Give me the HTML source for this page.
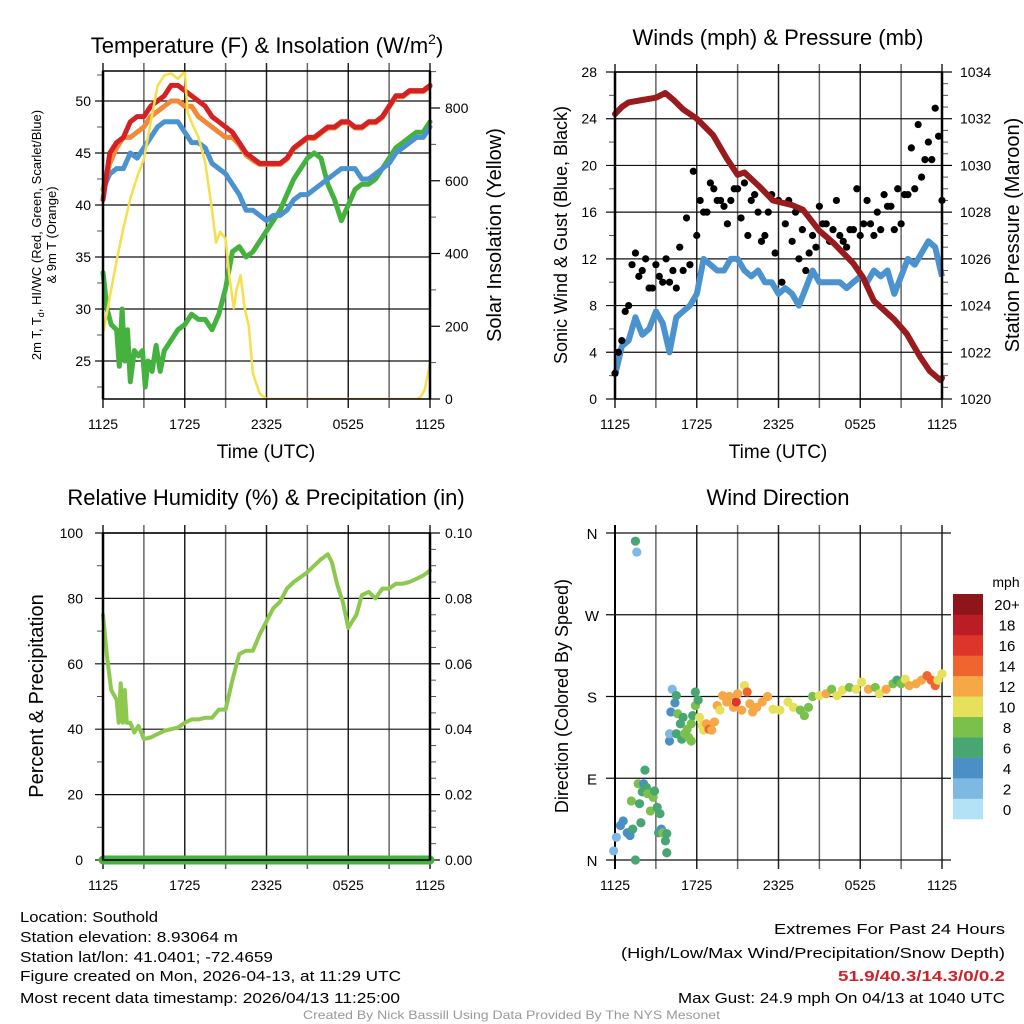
<!DOCTYPE html>
<html><head><meta charset="utf-8"><style>
html,body{margin:0;padding:0;background:#fff}
svg{display:block;font-family:"Liberation Sans",sans-serif}
</style></head><body>
<svg id="s" width="1024" height="1024" viewBox="0 0 1024 1024" xmlns="http://www.w3.org/2000/svg">
<rect width="1024" height="1024" fill="#fff"/>
<g id="g"></g>
<g font-family="'Liberation Sans Narrow','Liberation Sans',sans-serif" font-size="15" fill="#000">
<text x="20" y="922" textLength="138" lengthAdjust="spacingAndGlyphs">Location: Southold</text>
<text x="20" y="942" textLength="218" lengthAdjust="spacingAndGlyphs">Station elevation: 8.93064 m</text>
<text x="20" y="962" textLength="253" lengthAdjust="spacingAndGlyphs">Station lat/lon: 41.0401; -72.4659</text>
<text x="20" y="981" textLength="381" lengthAdjust="spacingAndGlyphs">Figure created on Mon, 2026-04-13, at 11:29 UTC</text>
<text x="20" y="1003" textLength="380" lengthAdjust="spacingAndGlyphs">Most recent data timestamp: 2026/04/13 11:25:00</text>
<text x="774" y="934" textLength="231" lengthAdjust="spacingAndGlyphs">Extremes For Past 24 Hours</text>
<text x="621" y="958" textLength="384" lengthAdjust="spacingAndGlyphs">(High/Low/Max Wind/Precipitation/Snow Depth)</text>
<text x="838" y="981" textLength="167" lengthAdjust="spacingAndGlyphs" fill="#d0202a" font-weight="bold">51.9/40.3/14.3/0/0.2</text>
<text x="678" y="1003" textLength="327" lengthAdjust="spacingAndGlyphs">Max Gust: 24.9 mph On 04/13 at 1040 UTC</text>
<text x="303" y="1019" textLength="417" lengthAdjust="spacingAndGlyphs" font-size="12" fill="#999">Created By Nick Bassill Using Data Provided By The NYS Mesonet</text>
</g>
</svg>
<script>
// ---- data ----
const xTickLabels = ["1125","1725","2325","0525","1125"];
const halfHours = [0,0.5,1,1.5,2,2.5,3,3.5,4,4.5,5,5.5,6,6.5,7,7.5,8,8.5,9,9.5,10,10.5,11,11.5,12,12.5,13,13.5,14,14.5,15,15.5,16,16.5,17,17.5,18,18.5,19,19.5,20,20.5,21,21.5,22,22.5,23,23.5,24];
const tempRed = [40.5,45,46,46.5,48,48.5,48.5,49.5,50,50.5,51.5,51.5,51,50.5,50,49.5,48.5,48,47.5,47,46,45,44.5,44,44,44,44,44.5,45.5,46,46.5,46.5,47,47.5,47.5,48,48,47.5,47.5,48,48,48.5,49.5,50.5,50.5,51,51,51,51.5];
const tempOrange = [41.5,44,45.5,46.5,46.5,47,47.5,48.5,49,49.5,50,50,49.5,49.5,48.5,48,47.5,47,46.5,46.5,45.8,44.8,44.3,43.9,43.9,43.9,43.9,44.4,45.4,45.9,46.4,46.4,46.9,47.4,47.4,47.9,47.9,47.4,47.4,47.9,47.9,48.4,49.4,50.4,50.4,50.9,50.9,50.9,51.4];
const tempBlue = [41.5,43,43.5,43.5,45,44.5,45.5,46.5,47.5,48,48,48,47,46,46,45.5,44,43.5,43,42,41,39.5,39.5,39,38.5,39,39,39.5,40.5,41,41,41.5,42,42.5,43,43.5,43.5,43.5,42.5,42.5,43,43.5,44,45,45.5,46,46.5,46.5,47.5];
const dewTimes = [0,0.3,0.6,1,1.2,1.4,1.6,1.8,2,2.3,2.6,2.9,3.1,3.3,3.6,3.9,4.2,4.5,5,5.5,6,6.5,7,7.5,8,8.5,9,9.5,10,10.5,11,11.5,12,12.5,13,13.5,14,14.5,15,15.5,16,16.5,17,17.5,18,18.5,19,19.5,20,20.5,21,21.5,22,22.5,23,23.5,24];
const tempGreen = [33.5,30,28.5,28,24.5,30,25,28,23,26,25.5,26,22.5,25,24,26.5,24,26,27,28,28.5,29.5,29,29,28,29.5,32,35.5,36,35,35.5,36.5,37.5,38.5,39.5,41,42.5,43.5,44.5,45,44.5,42,40.5,38.5,40,41.5,42,42,42.5,43.5,44.5,45.5,46,46.5,47,47,48];
const insolTimes = [0,0.5,1,1.5,2,2.5,3,3.5,4,4.5,5,5.5,6,6.2,6.5,7,7.5,8,8.3,8.6,9,9.3,9.6,9.8,10.1,10.4,10.7,11,11.5,12,13,15,17,19,21,23,23.3,23.6,23.8,24];
const insolation = [180,280,380,470,550,610,660,760,860,890,895,880,900,790,760,720,650,520,430,460,440,330,250,300,340,250,200,70,15,0,0,0,0,0,0,0,5,25,60,100];
const windSpeed = [2,4.5,5,7,5.5,6,7.5,6.5,4,7,7.5,8,9,12,11.5,11,11,12,12,11,10.5,11,10,10,9,9.5,9,8,9.5,11,10,10,10,10,9.5,10,10.5,10,11,10.5,11,9,10.5,12,11.5,12.5,13.5,13,10.5];
const pressTimes = [0,0.5,1,2,3,3.7,4.3,5,6,7.2,8.2,9,9.5,10.6,11.6,13,13.8,15,16,17.5,18.2,19,20.5,21.4,22.4,23.1,23.9,24];
const pressure = [1032.2,1032.5,1032.7,1032.8,1032.9,1033.1,1032.8,1032.4,1032.0,1031.3,1030.3,1029.6,1029.7,1029.1,1028.5,1028.3,1028.1,1027.2,1026.7,1025.8,1025.2,1024.2,1023.4,1022.8,1021.8,1021.2,1020.8,1020.9];
const gustA = [2.2,5,8,12.5,11,9.5,11.5,10,10,9.5,11,11.5,14,16,18.5,17,16.5,17,18,18.5,17,16,14,17.5,17,15,13.5,12,11,14,16.5,15,14.5,14,13,14.5,14,17,14,14.5,16.5,14.5,15,17.5,18,19,22,24.9,17];
const gustB = [4,7.5,11.5,10.5,12,9.5,10.5,12,11,13,15.5,19.5,17,16,18,17,15,18,15.5,14,17.5,13.5,16,12.5,10,17,16,14.5,12.5,13,15,13.5,17,13.5,14.5,18,15,15,16,17.5,16.5,18,17.5,21.5,23.5,20.5,20.5,22.5];
const rhTimes = [0,0.3,0.6,1,1.15,1.3,1.45,1.6,1.75,2,2.3,2.6,3,3.5,4,4.5,5,5.5,6,6.5,7,7.5,8,8.5,9,9.5,10,10.5,11,11.5,12,12.5,13,13.5,14,14.5,15,15.5,16,16.5,16.8,17.2,17.6,18,18.3,18.6,19,19.5,20,20.5,21,21.5,22,22.5,23,23.5,24];
const relHum = [75,62,52,49,42,54,42,52,42,42,39,41,37,37.5,38.5,39.5,40,40.5,42,43,43,43.5,43.5,46,46,55,63,64,64,69,73,77,79,83,85,86.5,88,90,92,93.5,91,84,79,71,73,75,81,82,80,83,83,84.5,84.5,85,86,87,88.5];
const precip = [0,0,0,0,0,0,0,0,0,0,0,0,0,0,0,0,0,0,0,0,0,0,0,0,0,0,0,0,0,0,0,0,0,0,0,0,0,0,0,0,0,0,0,0,0,0,0,0,0];
const dirTimes = [-0.1,0.1,0.4,0.6,0.9,1.1,1.2,1.3,1.5,1.5,1.6,1.7,1.8,1.9,2.0,2.1,2.2,2.3,2.4,2.6,2.8,2.9,3.1,3.2,3.3,3.4,3.5,3.7,3.8,3.8,4.0,4.0,4.1,4.2,4.4,4.5,4.5,4.6,4.8,4.9,5.0,5.1,5.3,5.4,5.6,5.6,5.7,5.9,5.9,6.1,6.2,6.4,6.5,6.7,6.9,7.1,7.3,7.5,7.7,7.9,8.2,8.4,8.7,8.9,9.0,9.3,9.5,9.7,9.9,10.1,10.4,10.8,11.2,11.6,12.1,12.7,13.1,13.6,13.9,14.2,14.5,15.0,15.5,15.9,16.3,16.7,17.2,17.7,18.1,18.6,19.1,19.4,19.9,20.4,20.7,21.0,21.3,21.6,22.1,22.5,22.9,23.2,23.5,23.7,24.0];
const dirDeg = [10,25,38,43,30,27,65,34,0,351,339,84,62,41,75,84,99,80,73,54,69,76,58,30,51,34,30,21,8,29,131,139,163,188,173,181,139,161,150,133,157,139,144,135,131,150,159,170,185,176,157,148,143,150,144,143,152,170,165,181,174,180,168,174,183,165,192,185,172,163,168,174,180,166,165,174,168,165,159,168,180,181,183,188,181,187,190,188,196,188,190,183,188,194,198,194,199,192,194,198,203,198,192,198,205];
const dirSpeed = [2,2,4,4,4,4,8,6,6,6,2,8,6,6,6,4,6,6,8,8,8,6,6,6,6,4,8,6,6,6,4,2,4,2,4,6,6,8,6,6,6,8,8,8,8,8,6,8,6,6,10,10,10,12,15,12,12,12,10,12,12,12,12,16,12,12,10,15,12,12,12,12,12,10,10,10,10,8,8,8,8,10,12,8,10,10,8,10,10,12,8,10,12,8,6,8,10,12,12,12,14,14,14,10,10];
const speedBins = ["0","2","4","6","8","10","12","14","16","18","20+"];
const binColors = ["#b3e1f6","#7eb9e3","#4a8fc6","#48a672","#7bc04b","#e7e05a","#f5a845","#ef652f","#dd3529","#bb1d26","#8e1519"];

// ---- helpers ----
const NS="http://www.w3.org/2000/svg";
const root=document.getElementById('g');
function el(tag,attrs,parent){const e=document.createElementNS(NS,tag);for(const k in attrs)e.setAttribute(k,attrs[k]);(parent||root).appendChild(e);return e;}
function txt(x,y,s,size,anchor,parent,extra){const e=el('text',Object.assign({x:x,y:y,'font-size':size,'text-anchor':anchor||'middle',fill:'#000'},extra||{}),parent);e.textContent=s;return e;}
function scale(d0,d1,r0,r1){return v=>r0+(v-d0)/(d1-d0)*(r1-r0);}
function linePath(xs,ys,sx,sy){return xs.map((t,i)=>(i?'L':'M')+sx(t).toFixed(1)+','+sy(ys[i]).toFixed(1)).join('');}

function panel(name,L,R,T,B){
  const g=el('g',{});
  
  
  const sx=scale(0,24,L,R);
  for(let h=0;h<=24;h+=3){
    const x=sx(h);
    const ln=el('line',{x1:x,x2:x,y1:T-8,y2:B+9,stroke:(h%6==0)?'#222':'#666','stroke-width':1.5},g);
    
    
  }
  xTickLabels.forEach((s,i)=>{const t=txt(sx(i*6),B+30,s,14,'middle',g);
    
    });
  return {g,sx};
}
function hgrid(g,ys,L,R,tickL,tickR){ys.forEach(y=>{const ln=el('line',{x1:L-tickL,x2:R+tickR,y1:y,y2:y,stroke:'#111','stroke-width':1.2},g);
  
  });}
function frame(g,L,R,T,B){const r=el('rect',{x:L,y:T,width:R-L,height:B-T,fill:'none',stroke:'#000','stroke-width':1.5},g);
  
  
  el('line',{x1:L,x2:L,y1:T,y2:B,stroke:'#000','stroke-width':2.5},g);el('line',{x1:R,x2:R,y1:T,y2:B,stroke:'#000','stroke-width':2.5},g);}
function minorTicks(g,x,ys,dir){ys.forEach(y=>el('line',{x1:x,x2:x+dir*6,y1:y,y2:y,stroke:'#555','stroke-width':1},g));}
function vlabel(g,x,y,s,size,name){const t=txt(x,y,s,size,'middle',g,{transform:'rotate(-90 '+x+' '+y+')'});
  
  return t;}

// ===== Panel 1: Temperature =====
(function(){
  const L=103,R=430,T=71,B=399;
  const {g,sx}=panel('temperature-panel',L,R,T,B);
  const sy=scale(25,50,361,101);
  const si=scale(0,800,399,108);
  hgrid(g,[50,45,40,35,30,25].map(sy),L,R,8,0);
  [800,600,400,200,0].forEach(v=>el('line',{x1:R,x2:R+10,y1:si(v),y2:si(v),stroke:'#000','stroke-width':1.2},g));
  minorTicks(g,L,[52.5,47.5,42.5,37.5,32.5,27.5,22.5].map(sy),-1);
  minorTicks(g,R,[900,700,500,300,100].map(si),1);
  [50,45,40,35,30,25].forEach(v=>{const t=txt(L-12,sy(v)+5,String(v),14,'end',g);
    
    });
  [800,600,400,200,0].forEach(v=>{const t=txt(R+15,si(v)+5,String(v),14,'start',g);
    
    });
  const clip=el('clipPath',{id:'c1'},g);el('rect',{x:L-4,y:T-12,width:R-L+8,height:B-T+12},clip);
  const pg=el('g',{'clip-path':'url(#c1)'},g);
  const series=[['dewpoint-line',dewTimes,tempGreen,'#45b23f',5],['windchill-line',halfHours,tempBlue,'#4b93cf',5],['temp-9m-line',halfHours,tempOrange,'#f08a3a',5],['temp-2m-line',halfHours,tempRed,'#d42124',5]];
  series.forEach(s=>{const p=el('path',{d:linePath(s[1],s[2],sx,sy),fill:'none',stroke:s[3],'stroke-width':s[4],'stroke-linejoin':'round','stroke-linecap':'round'},pg);
    
    });
  const ip=el('path',{d:linePath(insolTimes,insolation,sx,si),fill:'none',stroke:'#f7de4a','stroke-width':2.5,'stroke-linejoin':'round'},pg);
  
  
  frame(g,L,R,T,B);
  const tt=txt(267,53,'',22,'middle',g);
  
  
  tt.innerHTML='Temperature (F) &amp; Insolation (W/m<tspan dy="-9" font-size="14">2</tspan><tspan dy="9">)</tspan>';
  const xl=txt(266,458,'Time (UTC)',19,'middle',g);
  
  
  const a=vlabel(g,41,235,'',13,'y-axis-title');
  a.innerHTML='2m T, T<tspan dy="3" font-size="9">d</tspan><tspan dy="-3">, HI/WC (Red, Green, Scarlet/Blue)</tspan>';
  vlabel(g,56,235,'& 9m T (Orange)',13,'y-axis-title-line2');
  vlabel(g,501,235,'Solar Insolation (Yellow)',20,'y2-axis-title');
})();

// ===== Panel 2: Winds & pressure =====
(function(){
  const L=615,R=942,T=72,B=399;
  const {g,sx}=panel('wind-pressure-panel',L,R,T,B);
  const sy=scale(0,28,399,72);
  const sp=scale(1020,1034,399,72);
  hgrid(g,[0,4,8,12,16,20,24,28].map(sy),L,R,9,0);
  [1020,1022,1024,1026,1028,1030,1032,1034].forEach(v=>el('line',{x1:R,x2:R+10,y1:sp(v),y2:sp(v),stroke:'#000','stroke-width':1.2},g));
  minorTicks(g,L,[2,6,10,14,18,22,26].map(sy),-1);
  const mm=[];for(let v=1020.5;v<1034;v+=0.5){if(v%2!=0)mm.push(sp(v));}minorTicks(g,R,mm,1);
  [0,4,8,12,16,20,24,28].forEach(v=>{const t=txt(L-18,sy(v)+5,String(v),14,'end',g);
    
    });
  [1020,1022,1024,1026,1028,1030,1032,1034].forEach(v=>{const t=txt(R+18,sp(v)+5,String(v),14,'start',g);
    
    });
  const wp=el('path',{d:linePath(halfHours,windSpeed,sx,sy),fill:'none',stroke:'#4b93cf','stroke-width':6,'stroke-linejoin':'round'},g);
  
  
  gustA.forEach((v,i)=>{const c=el('circle',{cx:sx(halfHours[i]),cy:sy(v),r:3.6,fill:'#000'},g);
    
    });
  gustB.forEach((v,i)=>{const c=el('circle',{cx:sx(halfHours[i]+0.25),cy:sy(v),r:3.6,fill:'#000'},g);
    
    });
  const pp=el('path',{d:linePath(pressTimes,pressure,sx,sp),fill:'none',stroke:'#9a1b1e','stroke-width':6,'stroke-linejoin':'round','stroke-linecap':'round'},g);
  
  
  frame(g,L,R,T,B);
  const tt=txt(778,45,'Winds (mph) & Pressure (mb)',22,'middle',g);
  
  
  const xl=txt(778,458,'Time (UTC)',19,'middle',g);
  
  
  vlabel(g,567,235,'Sonic Wind & Gust (Blue, Black)',18,'y-axis-title');
  vlabel(g,1019,235,'Station Pressure (Maroon)',20,'y2-axis-title');
})();

// ===== Panel 3: RH & precip =====
(function(){
  const L=103,R=430,T=533,B=860;
  const {g,sx}=panel('humidity-panel',L,R,T,B);
  const sy=scale(0,100,860,533);
  const sq=scale(0,0.1,860,533);
  hgrid(g,[0,20,40,60,80,100].map(sy),L,R,8,0);
  [0,0.02,0.04,0.06,0.08,0.1].forEach(v=>el('line',{x1:R,x2:R+10,y1:sq(v),y2:sq(v),stroke:'#000','stroke-width':1.2},g));
  minorTicks(g,L,[10,30,50,70,90].map(sy),-1);
  const mm=[];for(let k=1;k<20;k++){if(k%4!=0)mm.push(sq(k*0.005));}minorTicks(g,R,mm,1);
  [0,20,40,60,80,100].forEach(v=>{const t=txt(L-20,sy(v)+5,String(v),14,'end',g);
    
    });
  ['0.00','0.02','0.04','0.06','0.08','0.10'].forEach((s,i)=>{const t=txt(R+15,sq(i*0.02)+5,s,14,'start',g);
    
    });
  const rp=el('path',{d:linePath(rhTimes,relHum,sx,sy),fill:'none',stroke:'#8dc94f','stroke-width':4,'stroke-linejoin':'round','stroke-linecap':'round'},g);
  
  
  const pq=el('path',{d:linePath(halfHours,precip,sx,sq),fill:'none',stroke:'#45b23f','stroke-width':9,'stroke-linecap':'round'},g);
  
  
  frame(g,L,R,T,B);
  el('line',{x1:L,x2:R,y1:B,y2:B,stroke:'#222','stroke-width':2},g);
  const tt=txt(266,505,'Relative Humidity (%) & Precipitation (in)',22,'middle',g);
  
  
  vlabel(g,43,696,'Percent & Precipitation',20,'y-axis-title');
})();

// ===== Panel 4: Wind direction =====
(function(){
  const L=615,R=942,T=533,B=860;
  const {g,sx}=panel('wind-direction-panel',L,R,T,B);
  const sy=scale(0,360,860,533);
  hgrid(g,[0,90,180,270,360].map(sy),L,R,9,9);
  ['N','E','S','W','N'].forEach((s,i)=>{const t=txt(L-23,sy(i*90)+6,s,15,'middle',g);
    
    });
  el('line',{x1:L,x2:L,y1:T-8,y2:B+9,stroke:'#000','stroke-width':2},g);
  dirDeg.forEach((d,i)=>{const b=Math.min(10,Math.floor(dirSpeed[i]/2));
    const c=el('circle',{cx:sx(dirTimes[i]),cy:sy(d),r:4.6,fill:binColors[b]},g);
    
    });
  const tt=txt(778,505,'Wind Direction',22,'middle',g);
  
  
  vlabel(g,568,696,'Direction (Colored By Speed)',18,'y-axis-title');
  const lg=el('g',{},g);
  
  
  const h=225/11;
  binColors.forEach((c,i)=>{const y=819-(i+1)*h;
    const r=el('rect',{x:953,y:y,width:30,height:h+0.3,fill:c},lg);
    
    
    const t=txt(1007,y+h/2+6,speedBins[i],15,'middle',lg);
    
    });
  const m=txt(1006,587,'mph',14,'middle',lg);
  
  
})();
</script>
</body></html>
